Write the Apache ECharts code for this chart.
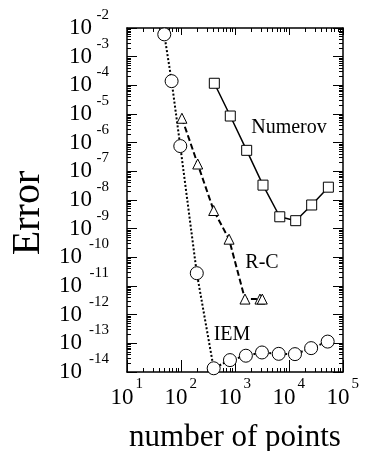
<!DOCTYPE html>
<html>
<head>
<meta charset="utf-8">
<script src="https://cdn.jsdelivr.net/npm/echarts@6/dist/echarts.min.js"></script>
<style>
  html, body { margin: 0; padding: 0; background: #fff; }
  #chart { width: 365px; height: 451px; }
</style>
</head>
<body>
<div id="chart"></div>
<script>
// values
const iemX = [49, 67, 97, 196, 403, 807, 1590, 3160, 6450, 12900, 25700, 52000]
const iemY = [6e-3, 1.4e-4, 7.6e-7, 2.8e-11, 1.35e-14, 2.6e-14, 3.7e-14, 4.8e-14, 4.3e-14, 4.2e-14, 6.8e-14, 1.15e-13]
const rcX = [104, 204, 403, 776, 1530, 2900, 3200]
const rcY = [7.1e-6, 1.8e-7, 4.3e-9, 4.3e-10, 3.5e-12, 3.5e-12, 3.5e-12]
const numX = [414, 818, 1645, 3300, 6750, 13300, 26300, 53600]
const numY = [1.18e-4, 8.5e-6, 5.4e-7, 3.3e-8, 2.6e-9, 1.9e-9, 6.7e-9, 2.8e-8]

const xTickExp = [1, 2, 3, 4, 5]
const yTickExp = [-2, -3, -4, -5, -6, -7, -8, -9, -10, -11, -12, -13, -14]

const font = "Liberation Serif"
const black = "#000"

const minorValues = (exps) => {
  const out = []
  for (let i = 0; i < exps.length - 1; i++) {
    const lo = Math.min(exps[i], exps[i + 1])
    for (let m = 2; m <= 9; m++) out.push(m * Math.pow(10, lo))
  }
  return out
}

const expOf = (exps, v) => {
  const e = Math.round(Math.log10(v))
  return exps.includes(e) ? String(e) : null
}

// x axis: "10" with the exponent raised (rich text)
const xLabel = (v) => {
  const s = expOf(xTickExp, v)
  return s === null ? "" : "{b|10}{s|" + s + "}"
}
const xRich = {
  b: { fontFamily: font, fontSize: 23, color: black, lineHeight: 24, width: 23, align: "left", verticalAlign: "middle" },
  s: { fontFamily: font, fontSize: 15, color: black, lineHeight: 2, width: 8, padding: [-9, 0, 0, 2], align: "left", verticalAlign: "top" },
}

// y axis: base "10" and exponent drawn by two overlaid label rows
const yBase = (len) => (v) => {
  const s = expOf(yTickExp, v)
  return s !== null && s.length === len ? "10" : ""
}
const yExp = (v) => expOf(yTickExp, v) || ""

const frameLine = { show: true, lineStyle: { color: black, width: 1.5 } }
const noLine = { show: false }

const logAxis = (extra) => Object.assign({
  type: "log",
  logBase: 10,
  axisLine: frameLine,
  splitLine: { show: false },
  axisLabel: { show: false },
  axisTick: { show: true, inside: true, length: 10, lineStyle: { color: black, width: 1 } },
}, extra)

const minorTick = (exps) => ({ show: true, inside: true, length: 4, customValues: minorValues(exps), lineStyle: { color: black, width: 1 } })
const labelOnly = (pos, min, max, label) => logAxis({
  position: pos, min: min, max: max, interval: 1, axisLine: noLine, axisTick: { show: false },
  axisLabel: Object.assign({ show: true, showMinLabel: true, showMaxLabel: true, hideOverlap: false, color: black, fontFamily: font }, label),
})

const xMin = Math.pow(10, xTickExp[0])
const xMax = Math.pow(10, xTickExp[xTickExp.length - 1])
const yMin = Math.pow(10, yTickExp[yTickExp.length - 1])
const yMax = Math.pow(10, yTickExp[0])

const chart = echarts.init(document.getElementById("chart"), null, { renderer: "canvas" })

const option = {
  animation: false,
  backgroundColor: "#fff",
  grid: { left: 127, right: 22, top: 28, bottom: 79, containLabel: false, outerBoundsMode: "none" },
  xAxis: [
    logAxis({
      position: "bottom", min: xMin, max: xMax, interval: 1,
      axisTick: { show: true, inside: true, length: 12, lineStyle: { color: black, width: 1 } },
      axisLabel: {
        show: true, margin: 14, showMinLabel: true, showMaxLabel: true, hideOverlap: false,
        formatter: xLabel, rich: xRich,
      },
      name: "number of points",
      nameLocation: "middle",
      nameGap: 50,
      nameMoveOverlap: false,
      nameTextStyle: { fontFamily: font, fontSize: 31, color: black },
    }),
    logAxis({
      position: "top", min: xMin, max: xMax, interval: 1,
      axisTick: { show: true, inside: true, length: 7, lineStyle: { color: black, width: 1 } },
    }),
    logAxis({ position: "bottom", min: xMin, max: xMax, axisLine: noLine, axisTick: minorTick(xTickExp) }),
    logAxis({ position: "top", min: xMin, max: xMax, axisLine: noLine, axisTick: minorTick(xTickExp) }),
  ],
  yAxis: [
    logAxis({
      position: "left", min: yMin, max: yMax, interval: 1,
      axisLabel: {
        show: true, margin: 35, showMinLabel: true, showMaxLabel: true, hideOverlap: false,
        formatter: yBase(2), fontFamily: font, fontSize: 23, color: black, lineHeight: 24,
      },
      name: "Error",
      nameLocation: "middle",
      nameGap: 79,
      nameMoveOverlap: false,
      nameTextStyle: { fontFamily: font, fontSize: 40, color: black, padding: [0, 26, 0, 0] },
    }),
    labelOnly("left", yMin, yMax, { margin: 45, formatter: yBase(3), fontSize: 23, lineHeight: 24 }),
    labelOnly("left", yMin, yMax, { margin: 18, formatter: yExp, fontSize: 15, lineHeight: 26, verticalAlign: "bottom" }),
    logAxis({ position: "right", min: yMin, max: yMax, interval: 1 }),
    logAxis({ position: "left", min: yMin, max: yMax, axisLine: noLine, axisTick: minorTick(yTickExp) }),
    logAxis({ position: "right", min: yMin, max: yMax, axisLine: noLine, axisTick: minorTick(yTickExp) }),
  ],
  series: [
    {
      name: "IEM", type: "line",
      data: iemX.map((x, i) => [x, iemY[i]]),
      symbol: "circle", symbolSize: 13,
      itemStyle: { color: "#fff", borderColor: black, borderWidth: 1 },
      lineStyle: { color: black, width: 2, type: [2, 2] },
      z: 3,
    },
    {
      name: "R-C", type: "line",
      data: rcX.map((x, i) => [x, rcY[i]]),
      symbol: "triangle", symbolSize: 10,
      itemStyle: { color: "#fff", borderColor: black, borderWidth: 1 },
      lineStyle: { color: black, width: 2, type: [6, 3] },
    },
    {
      name: "Numerov", type: "line",
      data: numX.map((x, i) => [x, numY[i]]),
      symbol: "rect", symbolSize: 10,
      itemStyle: { color: "#fff", borderColor: black, borderWidth: 1 },
      lineStyle: { color: black, width: 1.5 },
    },
  ],
  graphic: [
    { type: "text", x: 289, y: 128, style: { text: "Numerov", font: "20px " + font, fill: black, align: "center", verticalAlign: "middle" } },
    { type: "text", x: 262, y: 263, style: { text: "R-C", font: "20px " + font, fill: black, align: "center", verticalAlign: "middle" } },
    { type: "text", x: 232, y: 335, style: { text: "IEM", font: "20px " + font, fill: black, align: "center", verticalAlign: "middle" } },
  ],
}

chart.setOption(option)
</script>
</body>
</html>
